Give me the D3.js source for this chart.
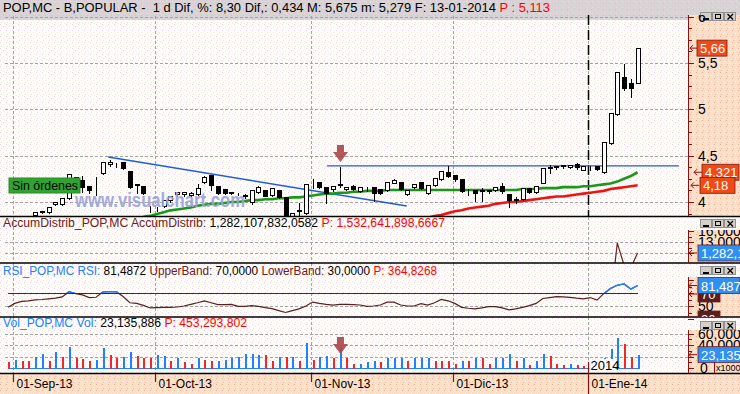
<!DOCTYPE html>
<html>
<head>
<meta charset="utf-8">
<script src="https://cdn.jsdelivr.net/npm/d3@7"></script>
<style>
body{margin:0;background:#fff;}
svg{display:block;font-family:"Liberation Sans",Arial,sans-serif;}
</style>
</head>
<body>
<svg id="chart" width="740" height="394"></svg>
<script>
// trading days shown, per month
var monthDays = [
    ["2013-08", [30]],
    ["2013-09", [2,3,4,5,6,9,10,11,12,13,16,17,18,19,20,23,24,25,26,27,30]],
    ["2013-10", [1,2,3,4,7,8,9,10,11,14,15,16,17,18,21,22,23,24,25,28,29,30,31]],
    ["2013-11", [1,4,5,6,7,8,11,12,13,14,15,18,19,20,21,22,25,26,27,28,29]],
    ["2013-12", [2,3,4,5,6,9,10,11,12,13,16,17,18,19,20,23,24,27,30,31]],
    ["2014-01", [2,3,6,7,8,9,10,13]]
];
var monthLabels = ["01-Sep-13","01-Oct-13","01-Nov-13","01-Dic-13","01-Ene-14"];
var monthKeys = ["2013-09","2013-10","2013-11","2013-12","2014-01"];

var openP = [3.80,3.78,3.80,3.82,3.86,3.89,3.89,3.98,3.98,4.04,
    4.24,4.24,4.17,4.20,4.31,4.41,4.43,4.43,4.33,4.19,
    4.17,3.97,3.95,3.96,4.02,4.09,4.09,4.08,4.09,4.22,
    4.29,4.17,4.14,4.10,4.10,4.08,4.00,4.11,4.13,4.08,
    4.13,4.05,3.85,3.90,3.88,4.20,4.22,4.16,4.14,4.18,
    4.14,4.17,4.12,4.15,4.16,4.14,4.13,4.21,4.22,4.09,
    4.16,4.22,4.10,4.18,4.25,4.32,4.29,4.25,4.13,4.13,
    4.13,4.12,4.13,4.17,4.09,4.02,4.03,4.15,4.11,4.21,
    4.37,4.38,4.39,4.38,4.41,4.35,4.38,4.39,4.32,4.64,
    4.95,5.35,5.28,5.279];
var highP = [3.83,3.82,3.84,3.85,3.90,3.91,3.96,4.01,4.05,4.31,
    4.28,4.29,4.18,4.28,4.44,4.46,4.43,4.44,4.34,4.21,
    4.18,3.97,3.96,4.03,4.08,4.12,4.12,4.12,4.21,4.29,
    4.30,4.18,4.15,4.12,4.11,4.10,4.14,4.18,4.14,4.16,
    4.14,4.06,3.89,4.00,4.20,4.26,4.23,4.17,4.18,4.39,
    4.17,4.19,4.17,4.17,4.17,4.15,4.23,4.26,4.23,4.14,
    4.20,4.23,4.19,4.27,4.34,4.40,4.30,4.26,4.15,4.14,
    4.16,4.14,4.17,4.22,4.10,4.06,4.16,4.16,4.18,4.38,
    4.41,4.40,4.41,4.41,4.43,4.40,4.40,4.40,4.66,4.97,
    5.41,5.50,5.34,5.675];
var lowP = [3.76,3.75,3.78,3.79,3.85,3.88,3.88,3.97,3.97,4.03,
    4.20,4.11,4.10,4.08,4.30,4.39,4.38,4.36,4.15,4.10,
    4.09,3.89,3.90,3.95,4.00,4.06,4.07,4.06,4.08,4.20,
    4.13,4.09,4.09,4.09,4.08,4.04,3.98,4.10,4.06,4.07,
    4.04,3.82,3.83,3.86,3.87,4.15,4.15,3.99,4.12,4.16,
    4.13,4.13,4.11,4.12,4.01,4.09,4.12,4.20,4.13,4.08,
    4.15,4.14,4.09,4.17,4.24,4.27,4.23,4.11,4.08,4.01,
    4.01,4.10,4.12,4.10,3.95,3.99,4.02,4.10,4.10,4.20,
    4.31,4.36,4.37,4.37,4.36,4.34,4.34,4.34,4.31,4.63,
    4.94,5.21,5.13,5.279];
var closeP = [3.78,3.80,3.82,3.83,3.89,3.90,3.95,4.00,4.04,4.30,
    4.27,4.16,4.13,4.21,4.43,4.43,4.43,4.37,4.16,4.18,
    4.10,3.97,3.95,4.02,4.06,4.11,4.11,4.10,4.15,4.27,
    4.18,4.10,4.10,4.11,4.10,4.06,4.13,4.16,4.07,4.15,
    4.05,3.84,3.88,3.91,4.19,4.21,4.16,4.10,4.17,4.19,
    4.16,4.14,4.16,4.15,4.10,4.10,4.22,4.24,4.14,4.13,
    4.19,4.15,4.18,4.26,4.33,4.28,4.25,4.12,4.13,4.10,
    4.12,4.13,4.16,4.12,4.02,4.03,4.15,4.11,4.17,4.37,
    4.38,4.39,4.40,4.40,4.38,4.39,4.38,4.36,4.65,4.96,
    5.40,5.23,5.226,5.66];

// moving averages (start at bar 20 and bar 62)
var maGreenStart = 20;
var maGreen = [3.84,3.85,3.87,3.89,3.91,3.92,3.93,3.94,3.96,3.97,
    3.98,3.98,3.99,4.00,4.00,4.01,4.02,4.02,4.03,4.03,
    4.04,4.04,4.05,4.05,4.06,4.07,4.08,4.09,4.09,4.10,
    4.10,4.11,4.11,4.12,4.12,4.12,4.13,4.13,4.13,4.13,
    4.13,4.13,4.13,4.13,4.13,4.13,4.13,4.13,4.13,4.13,
    4.13,4.13,4.13,4.13,4.13,4.13,4.14,4.14,4.14,4.15,
    4.15,4.15,4.16,4.16,4.16,4.17,4.17,4.18,4.19,4.20,
    4.22,4.25,4.28,4.321];
var maRedStart = 62;
var maRed = [3.83,3.85,3.86,3.88,3.90,3.91,3.93,3.94,3.95,3.96,
    3.98,3.99,4.00,4.00,4.01,4.02,4.03,4.04,4.05,4.06,
    4.06,4.07,4.08,4.09,4.10,4.11,4.12,4.14,4.15,4.16,
    4.17,4.18];

// trend lines [bar, price]
var trendDown = [[14.8, 4.485], [58.9, 3.957]];
var resistance = [[47.1, 4.39], [99.1, 4.39]];
var signalBar = 49;

var adStart = 88;
var adValues = [-6000, -3600, 12700, 6700, 6000, 10000];

var rsiValues = [48,54,57,58,59.5,60,61,62,64,72,
    69,67,63,63.5,71.5,72,72,64.5,55,54,
    51,47,47.5,48,48,48.5,50,52.5,55,58,
    55,52,52,52.5,49.5,49.5,50.5,49.5,47.5,46,
    43,40,43,45.5,50,56,54,52.5,51.5,52.5,
    52.6,52,51.5,49.5,50,51.5,56,56,51.5,50,
    50,53.5,51.5,55,60,58,54,48,46.5,45.5,
    47,49,49,47,44,45.5,48,50.5,54,61.5,
    63,64.3,64,63.3,62,61,63,59,69,77,
    82,84,76,81.487];
var rsiUpper = 70;

// volume in thousands, u = up day (blue), d = down day (red)
var volume = [11000,14000,13000,13000,19000,24000,13000,27000,18500,37000,
    17000,16000,13000,14000,35000,23000,17000,20000,27000,21000,
    17000,17000,22000,21000,11500,17000,10000,7500,17000,14500,
    13000,11500,14500,17000,20000,25000,25000,22000,23000,13000,
    20000,20000,20000,13000,43000,14500,19000,21000,17000,36000,
    17000,7500,7500,10000,13000,10000,17000,17000,17000,13000,
    17000,17000,17000,11500,11500,13000,7500,11500,11500,17000,
    17000,7500,17000,17000,25000,11500,17000,6000,11500,25000,
    21000,7500,6000,7500,6000,4000,6000,8000,17000,32500,
    53000,42000,19000,23135.886];
var volDir = ["dudduududu","ddduudduud","dduududdud","duuuuuuudd","udududuudu",
    "dduuuduuud","uuuddddudu","dduuududuu","dddudddduu","uddu"].join("");

var priceTicks = [4, 4.5, 5, 5.5, 6];
var adTicks = [13000, 16000];
var volTicks = [0, 40000, 60000];

var titleParts = [["POP,MC - B,POPULAR -  1 d Dif, %: 8,30 Dif,: 0,434 M: 5,675 m: 5,279 F: 13-01-2014 ", "#000"], ["P : 5,113", "#f00"]];
var adParts = [["AccumDistrib_POP,MC AccumDistrib: ", "#6a2020"], ["1,282,107,832,0582 ", "#000"], ["P: 1,532,641,898,6667", "#f00"]];
var rsiParts = [["RSI_POP,MC RSI: ", "#2080ff"], ["81,4872 ", "#000"], ["UpperBand: ", "#6a2020"], ["70,0000 ", "#000"], ["LowerBand: ", "#6a2020"], ["30,0000 ", "#000"], ["P: 364,8268", "#f00"]];
var volParts = [["Vol_POP,MC Vol: ", "#2080ff"], ["23,135,886 ", "#000"], ["P: 453,293,802", "#f00"]];

var dates = [];
monthDays.forEach(function(m) {
    m[1].forEach(function(d) { dates.push(m[0] + "-" + (d < 10 ? "0" + d : d)); });
});

var plotRight = 688;
var svg = d3.select("#chart");
var defs = svg.append("defs");

var x = d3.scaleLinear().domain([0, dates.length - 1]).range([8, 637.6]);
var yPrice = d3.scaleLinear().domain([4, 5]).range([202, 109.3]);
var yAd = d3.scaleLinear().domain([10000, 13000]).range([253, 242]);
var yRsi = d3.scaleLinear().domain([50, 70]).range([306, 293]);
var yVol = d3.scaleLinear().domain([0, 40000]).range([368, 345]);

function fmt(v) { return String(v).replace(".", ","); }
function px(v) { return Math.round(v) + 0.5; }

function addPattern(id, base, dots) {
    var p = defs.append("pattern").attr("id", id)
        .attr("width", 6).attr("height", 6).attr("patternUnits", "userSpaceOnUse");
    p.append("rect").attr("width", 6).attr("height", 6).attr("fill", base);
    dots.forEach(function(d) {
        p.append("rect").attr("x", d[0]).attr("y", d[1]).attr("width", 1).attr("height", 1).attr("fill", d[2]);
    });
}
addPattern("plotTex", "#fffdf8", [[0,0,"#f3cdea"],[3,2,"#f8eea8"],[1,4,"#f6d8ee"],[4,5,"#faf2bc"]]);
addPattern("axisTex", "#fbe0c9", [[0,0,"#f0ad94"],[3,3,"#fff3e6"],[1,4,"#f3bca4"],[4,1,"#fde9d8"]]);
addPattern("titleTex", "#d7d4d4", [[0,0,"#e6c4de"],[3,3,"#c6c4c4"],[4,1,"#e2e0e0"]]);

function addClip(id, x0, y0, x1, y1) {
    defs.append("clipPath").attr("id", id).append("rect")
        .attr("x", x0).attr("y", y0).attr("width", x1 - x0).attr("height", y1 - y0);
}
addClip("mainClip", 0, 15, plotRight, 216);
addClip("adClip", 0, 217, plotRight, 263);
addClip("rsiClip", 0, 263, plotRight, 317);
addClip("rsiHiClip", 0, 263, plotRight, yRsi(rsiUpper));
addClip("volClip", 0, 317, plotRight, 373);
addClip("adAxClip", plotRight, 230, 740, 263);
addClip("rsiAxClip", plotRight, 277, 740, 317);
addClip("volAxClip", plotRight, 330, 740, 373);
addClip("mainAxClip", plotRight, 15, 740, 216);

// backgrounds
svg.append("rect").attr("x", 0).attr("y", 0).attr("width", 740).attr("height", 394).attr("fill", "url(#plotTex)");
svg.append("rect").attr("x", 0).attr("y", 0).attr("width", 740).attr("height", 20).attr("fill", "url(#titleTex)");
svg.append("rect").attr("x", plotRight).attr("y", 15).attr("width", 52).attr("height", 201).attr("fill", "url(#axisTex)");
[[230, 263], [277, 317], [330, 373]].forEach(function(r) {
    svg.append("rect").attr("x", plotRight).attr("y", r[0]).attr("width", 52).attr("height", r[1] - r[0]).attr("fill", "url(#axisTex)");
});
svg.append("rect").attr("x", 0).attr("y", 373).attr("width", 740).attr("height", 21).attr("fill", "url(#axisTex)");

// gridlines
var grid = svg.append("g").attr("stroke", "#a4a4a4").attr("stroke-dasharray", "3,2")
    .attr("shape-rendering", "crispEdges");
function hGrid(y) {
    grid.append("line").attr("x1", 5).attr("x2", plotRight).attr("y1", px(y)).attr("y2", px(y));
}
priceTicks.forEach(function(v) { hGrid(yPrice(v)); });
[10000, 13000].forEach(function(v) { hGrid(yAd(v)); });
hGrid(yRsi(50));
[20000, 40000, 60000].forEach(function(v) { hGrid(yVol(v)); });

var monthX = monthKeys.map(function(k) {
    var idx = dates.findIndex(function(d) { return d.indexOf(k) === 0; });
    return Math.round(x(idx)) - 1.5;
});
[[16, 216], [217, 263], [263, 317], [317, 373]].forEach(function(r) {
    monthX.forEach(function(mx) {
        grid.append("line").attr("x1", mx).attr("x2", mx).attr("y1", r[0]).attr("y2", r[1]);
    });
});

// ---- main panel ----
var main = svg.append("g").attr("clip-path", "url(#mainClip)");

// year separator
var yearX = monthX[4];
main.append("line").attr("x1", yearX).attr("x2", yearX).attr("y1", 15).attr("y2", 216)
    .attr("stroke", "#000").attr("stroke-width", 1.5).attr("stroke-dasharray", "10,5");

var priceLine = d3.line().x(function(d) { return x(d[0]); }).y(function(d) { return yPrice(d[1]); });

main.append("path").datum(trendDown).attr("d", priceLine)
    .attr("fill", "none").attr("stroke", "#1c5fd4").attr("stroke-width", 1.4);
main.append("path").datum(resistance).attr("d", priceLine)
    .attr("fill", "none").attr("stroke", "#1c5fd4").attr("stroke-width", 1.4);

main.append("path").datum(maGreen.map(function(v, k) { return [maGreenStart + k, v]; }))
    .attr("d", priceLine).attr("fill", "none").attr("stroke", "#1b981b").attr("stroke-width", 2.6);
main.append("path").datum(maRed.map(function(v, k) { return [maRedStart + k, v]; }))
    .attr("d", priceLine).attr("fill", "none").attr("stroke", "#ec1414").attr("stroke-width", 2.6);

var candles = dates.map(function(d, i) {
    return {date: d, i: i, o: openP[i], h: highP[i], l: lowP[i], c: closeP[i]};
});
var cg = main.append("g").attr("shape-rendering", "crispEdges");
var bar = cg.selectAll("g").data(candles).enter().append("g");
bar.append("line")
    .attr("x1", function(d) { return px(x(d.i)); })
    .attr("x2", function(d) { return px(x(d.i)); })
    .attr("y1", function(d) { return px(yPrice(d.h)); })
    .attr("y2", function(d) { return px(yPrice(d.l)); })
    .attr("stroke", "#000");
bar.append("rect")
    .attr("x", function(d) { return Math.round(x(d.i)) - 2 + 0.5; })
    .attr("width", 4)
    .attr("y", function(d) { return px(yPrice(Math.max(d.o, d.c))); })
    .attr("height", function(d) {
        return Math.max(0, px(yPrice(Math.min(d.o, d.c))) - px(yPrice(Math.max(d.o, d.c))));
    })
    .attr("fill", function(d) { return d.c >= d.o ? "#fff" : "#000"; })
    .attr("stroke", "#000");

// watermark over the candles
main.append("text").attr("x", 75).attr("y", 207)
    .attr("font-size", 20).attr("font-weight", "bold")
    .attr("textLength", 170).attr("lengthAdjust", "spacingAndGlyphs")
    .attr("fill", "#9aa3d9").attr("opacity", 0.9).text("www.visualchart.com");

function signalArrow(g, cx, top) {
    g.append("path")
        .attr("d", "M" + (cx - 3.5) + "," + top + "H" + (cx + 3.5) + "V" + (top + 7) + "H" + (cx + 7.5) +
            "L" + cx + "," + (top + 17) + "L" + (cx - 7.5) + "," + (top + 7) + "H" + (cx - 3.5) + "Z")
        .attr("fill", "#a84646").attr("opacity", 0.9);
}
signalArrow(main, px(x(signalBar)), 145);

// "Sin ordenes" tag
svg.append("rect").attr("x", 9).attr("y", 178).attr("width", 71).attr("height", 15)
    .attr("fill", "#31a331").attr("stroke", "#2a8a2a");
svg.append("text").attr("x", 12).attr("y", 190).attr("font-size", 13)
    .attr("textLength", 66).attr("lengthAdjust", "spacingAndGlyphs").attr("fill", "#000").text("Sin órdenes");

// ---- accum distrib ----
var ad = svg.append("g").attr("clip-path", "url(#adClip)");
ad.append("path").datum(adValues)
    .attr("d", d3.line().x(function(d, k) { return x(adStart + k); }).y(function(d) { return yAd(d); }))
    .attr("fill", "none").attr("stroke", "#6a2020").attr("stroke-width", 1.2);

// ---- rsi ----
var rsi = svg.append("g").attr("clip-path", "url(#rsiClip)");
rsi.append("line").attr("x1", x(0)).attr("x2", x(dates.length - 1))
    .attr("y1", px(yRsi(rsiUpper))).attr("y2", px(yRsi(rsiUpper)))
    .attr("stroke", "#5a2020").attr("stroke-width", 1.2).attr("shape-rendering", "crispEdges");
var rsiLine = d3.line().x(function(d, i) { return x(i); }).y(function(d) { return yRsi(d); });
rsi.append("path").datum(rsiValues).attr("d", rsiLine)
    .attr("fill", "none").attr("stroke", "#5a2020").attr("stroke-width", 1.2);
svg.append("g").attr("clip-path", "url(#rsiHiClip)")
    .append("path").datum(rsiValues).attr("d", rsiLine)
    .attr("fill", "none").attr("stroke", "#2080ff").attr("stroke-width", 1.4);

// ---- volume ----
var vol = svg.append("g").attr("clip-path", "url(#volClip)").attr("shape-rendering", "crispEdges");
vol.append("line").attr("x1", x(0)).attr("x2", x(dates.length - 1))
    .attr("y1", yVol(0) + 0.5).attr("y2", yVol(0) + 0.5).attr("stroke", "#2080ff");
vol.selectAll("rect.v").data(volume).enter().append("rect")
    .attr("x", function(d, i) { return Math.round(x(i)) - 0.5; })
    .attr("width", 2)
    .attr("y", function(d) { return yVol(d); })
    .attr("height", function(d) { return yVol(0) - yVol(d) + 1; })
    .attr("fill", function(d, i) { return volDir[i] === "u" ? "#2080ff" : "#f02828"; });
signalArrow(svg, px(x(signalBar)), 337);

// year tag in volume panel
svg.append("rect").attr("x", yearX + 1).attr("y", 359).attr("width", 26).attr("height", 13).attr("fill", "url(#plotTex)");
svg.append("text").attr("x", yearX + 2).attr("y", 370).attr("font-size", 13).attr("fill", "#000").text("2014");

// ---- separators ----
[216.5, 263, 317, 373.5].forEach(function(y) {
    svg.append("line").attr("x1", 0).attr("x2", 740).attr("y1", y).attr("y2", y)
        .attr("stroke", "#000").attr("stroke-width", 1.6);
});
[[15, 216], [230, 263], [277, 317], [330, 373]].forEach(function(r) {
    svg.append("line").attr("x1", plotRight + 0.5).attr("x2", plotRight + 0.5).attr("y1", r[0]).attr("y2", r[1])
        .attr("stroke", "#8b1010");
});

// ---- headers ----
function header(y, parts, width) {
    var t = svg.append("text").attr("x", 3).attr("y", y).attr("font-size", 12)
        .attr("xml:space", "preserve").style("white-space", "pre")
        .attr("textLength", width).attr("lengthAdjust", "spacingAndGlyphs");
    parts.forEach(function(p) { t.append("tspan").attr("fill", p[1]).text(p[0]); });
}
header(12, titleParts, 547);
header(227, adParts, 442);
header(275, rsiParts, 434);
header(327, volParts, 244);

function buttons(y) {
    var g = svg.append("g").attr("shape-rendering", "crispEdges");
    [701, 713, 725].forEach(function(bx, k) {
        g.append("rect").attr("x", bx - 0.5).attr("y", y - 0.5).attr("width", 11).attr("height", 8)
            .attr("fill", "#d4d0c8").attr("stroke", "#909090");
        if (k === 0) {
            g.append("line").attr("x1", bx + 2).attr("x2", bx + 8).attr("y1", y + 5.5).attr("y2", y + 5.5).attr("stroke", "#000").attr("stroke-width", 2);
        } else if (k === 1) {
            g.append("rect").attr("x", bx + 2.5).attr("y", y + 1.5).attr("width", 5).attr("height", 4)
                .attr("fill", "none").attr("stroke", "#000");
        } else {
            g.append("path").attr("d", "M" + (bx + 2.5) + "," + (y + 1) + "L" + (bx + 8) + "," + (y + 6.5) +
                "M" + (bx + 8) + "," + (y + 1) + "L" + (bx + 2.5) + "," + (y + 6.5))
                .attr("stroke", "#000").attr("stroke-width", 1.3).attr("shape-rendering", "auto");
        }
    });
}
buttons(13);
buttons(220);
buttons(267);
buttons(322);

// ---- right axes ----
var tickColor = "#8b1010";
function axisTicks(values, scale, len) {
    values.forEach(function(v) {
        svg.append("line").attr("x1", plotRight).attr("x2", plotRight + len)
            .attr("y1", px(scale(v))).attr("y2", px(scale(v)))
            .attr("stroke", tickColor).attr("shape-rendering", "crispEdges");
    });
}
axisTicks(d3.range(31, 49).map(function(k) { return k * 0.125; }), yPrice, 4);
axisTicks(priceTicks, yPrice, 6);

var axMain = svg.append("g").attr("clip-path", "url(#mainAxClip)");
axMain.selectAll("text").data(priceTicks).enter().append("text")
    .attr("x", 698).attr("y", function(d) { return yPrice(d) + 5; })
    .attr("font-size", 14).attr("fill", "#000").text(fmt);

function arrowMark(g, xa, y) {
    g.append("path").attr("d", "M" + (xa + 8) + "," + y + "H" + xa + "M" + (xa + 3) + "," + (y - 3) + "L" + xa + "," + y + "L" + (xa + 3) + "," + (y + 3))
        .attr("fill", "none").attr("stroke", tickColor).attr("stroke-width", 1);
}
function valueBox(g, bx, y, w, txt, bg, fg) {
    g.append("rect").attr("x", bx).attr("y", y - 8).attr("width", w).attr("height", 16)
        .attr("fill", bg).attr("stroke", "#7a1a1a").attr("stroke-width", 0.8);
    g.append("text").attr("x", bx + 3).attr("y", y + 5).attr("font-size", 13).attr("fill", fg).text(txt);
}
var lastGreen = maGreen[maGreen.length - 1];
var lastRed = maRed[maRed.length - 1];
var lastClose = closeP[closeP.length - 1];
arrowMark(axMain, 690, yPrice(lastClose));
valueBox(axMain, 697, yPrice(lastClose), 30, fmt(lastClose), "#f04a16", "#fff");
arrowMark(axMain, 694, yPrice(lastGreen));
valueBox(axMain, 702, yPrice(lastGreen), 37, fmt(lastGreen), "#f04a16", "#fff");
arrowMark(axMain, 691, yPrice(lastRed));
valueBox(axMain, 700, yPrice(lastRed), 35, fmt(lastRed), "#f04a16", "#fff");

// accum distrib axis
var axAd = svg.append("g").attr("clip-path", "url(#adAxClip)");
axisTicks([11500, 14500], yAd, 4);
axisTicks([10000].concat(adTicks), yAd, 6);
axAd.selectAll("text").data(adTicks).enter().append("text")
    .attr("x", 698).attr("y", function(d) { return yAd(d) + 5; })
    .attr("font-size", 14).attr("fill", "#000").text(d3.format(","));
arrowMark(axAd, 689, yAd(adValues[adValues.length - 1]));
valueBox(axAd, 698, yAd(adValues[adValues.length - 1]), 44, "1,282,1", "#3090f0", "#fff");

// rsi axis
var axRsi = svg.append("g").attr("clip-path", "url(#rsiAxClip)");
axisTicks([40, 60, 80], yRsi, 4);
axisTicks([30, 50, 70, 90], yRsi, 6);
valueBox(axRsi, 698, yRsi(30), 22, "30", "#5a1e1e", "#fff");
axRsi.append("text").attr("x", 698).attr("y", yRsi(50) + 5).attr("font-size", 14).attr("fill", "#000").text("50");
arrowMark(axRsi, 689, yRsi(rsiUpper) + 1);
valueBox(axRsi, 698, yRsi(rsiUpper) + 1, 22, "70", "#5a1e1e", "#fff");
var lastRsi = rsiValues[rsiValues.length - 1];
arrowMark(axRsi, 689, yRsi(lastRsi));
valueBox(axRsi, 698, yRsi(lastRsi), 42, fmt(lastRsi.toFixed(3)), "#3090f0", "#fff");

// volume axis
var axVol = svg.append("g").attr("clip-path", "url(#volAxClip)");
axisTicks([10000, 30000, 50000], yVol, 4);
axisTicks([0, 20000, 40000, 60000], yVol, 6);
axVol.selectAll("text").data(volTicks).enter().append("text")
    .attr("x", function(d) { return d === 0 ? 700 : 698; })
    .attr("y", function(d) { return yVol(d) + 5; })
    .attr("font-size", 14).attr("fill", "#000").text(d3.format(","));
var lastVol = volume[volume.length - 1];
arrowMark(axVol, 689, yVol(lastVol));
valueBox(axVol, 698, yVol(lastVol), 44, "23,135.", "#3090f0", "#fff");
axVol.append("line").attr("x1", 714.5).attr("x2", 714.5).attr("y1", 362).attr("y2", 373).attr("stroke", tickColor);
axVol.append("text").attr("x", 716).attr("y", 371).attr("font-size", 9).attr("fill", "#000").text("x1000");

// ---- date axis ----
monthX.forEach(function(mx, k) {
    svg.append("line").attr("x1", mx).attr("x2", mx)
        .attr("y1", k === 4 ? 362 : 374).attr("y2", k === 4 ? 394 : 382)
        .attr("stroke", tickColor).attr("stroke-width", 1.2);
    svg.append("text").attr("x", mx + 3).attr("y", 388).attr("font-size", 12)
        .attr("fill", "#000").text(monthLabels[k]);
});
</script>
</body>
</html>
